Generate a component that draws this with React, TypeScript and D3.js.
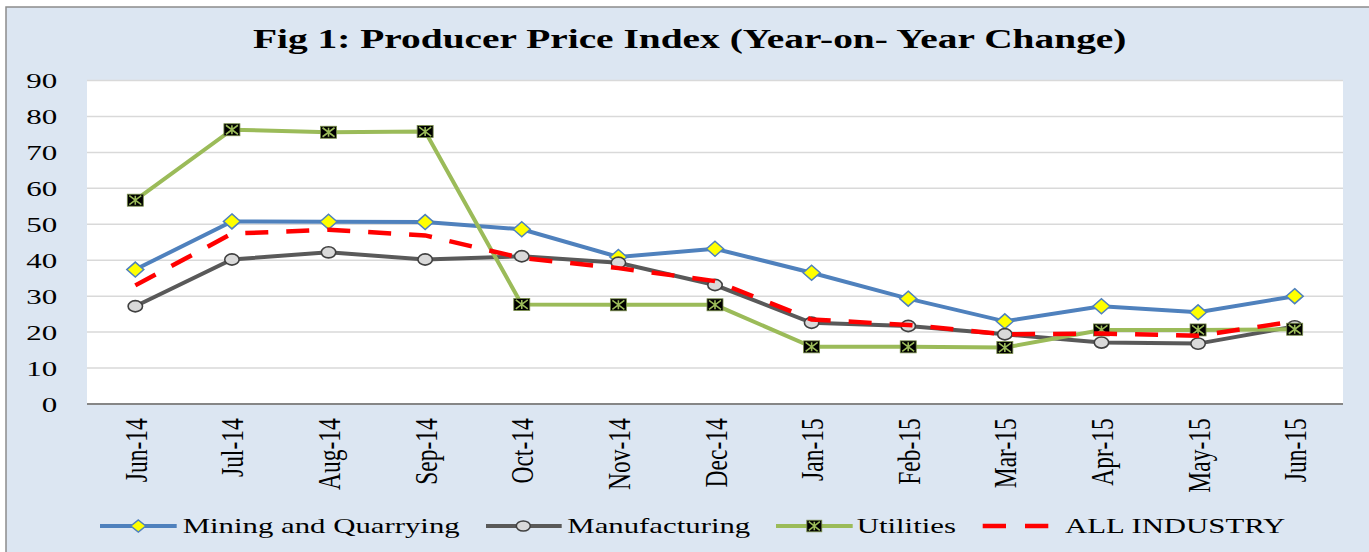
import React from "react";
import * as d3 from "d3";

const categories = ["Jun-14","Jul-14","Aug-14","Sep-14","Oct-14","Nov-14","Dec-14","Jan-15","Feb-15","Mar-15","Apr-15","May-15","Jun-15"];
const mining = [37.4, 50.8, 50.7, 50.6, 48.6, 40.9, 43.2, 36.5, 29.3, 23.0, 27.2, 25.5, 30.0];
const manufacturing = [27.2, 40.2, 42.2, 40.2, 41.1, 39.3, 33.1, 22.6, 21.7, 19.4, 17.1, 16.8, 21.6];
const utilities = [56.7, 76.3, 75.6, 75.8, 27.7, 27.6, 27.6, 15.9, 15.9, 15.7, 20.6, 20.6, 20.8];
const allIndustry = [33.0, 47.4, 48.5, 46.9, 40.6, 37.8, 34.2, 23.5, 22.0, 19.4, 19.6, 19.0, 23.0];
const yTicks = [0, 10, 20, 30, 40, 50, 60, 70, 80, 90];
const title = "Fig 1: Producer Price Index (Year-on- Year Change)";

const W = 1369, H = 552;
const plot = { left: 87, right: 1343, top: 80.5, bottom: 404 };
const FONT = "'Liberation Serif', 'Times New Roman', serif";

const BLUE = "#4F81BD", GREY = "#595959", GREEN = "#9BBB59", RED = "#FF0000";

function Diamond({ x, y, w = 8.5, h = 7.5 }: { x: number; y: number; w?: number; h?: number }) {
  return <path d={`M${x},${y - h}L${x + w},${y}L${x},${y + h}L${x - w},${y}Z`} fill="#FFFF00" stroke={BLUE} strokeWidth={1.5} />;
}
function Circ({ x, y, rx = 7.2, ry = 5.6 }: { x: number; y: number; rx?: number; ry?: number }) {
  return <ellipse cx={x} cy={y} rx={rx} ry={ry} fill="#D9D9D9" stroke="#404040" strokeWidth={1.6} />;
}
function Star({ x, y, w = 8, h = 6 }: { x: number; y: number; w?: number; h?: number }) {
  const kw = w - 2, kh = h - 1.5;
  return (
    <g>
      <rect x={x - w} y={y - h} width={2 * w} height={2 * h} fill="#000" stroke="#7a8f4a" strokeWidth={0.8} />
      <path d={`M${x - kw},${y - kh}L${x + kw},${y + kh}M${x + kw},${y - kh}L${x - kw},${y + kh}M${x},${y - kh}L${x},${y + kh}`} stroke={GREEN} strokeWidth={1.6} />
    </g>
  );
}

function LegendText({ x, y, children }: { x: number; y: number; children: React.ReactNode }) {
  return <text transform={`translate(${x},${y}) scale(1.4,1)`}>{children}</text>;
}

export default function App() {
  const x = d3.scaleBand<string>().domain(categories).range([plot.left, plot.right]);
  const y = d3.scaleLinear().domain([0, 90]).range([plot.bottom, plot.top]);
  const cx = (c: string) => (x(c) as number) + x.bandwidth() / 2;
  const line = d3.line<number>().x((_, i) => cx(categories[i])).y((d) => y(d));

  const legendY = 526;
  const ty = legendY + 7;
  return (
    <svg width={W} height={H} style={{ position: "absolute", left: 0, top: 0 }} fontFamily={FONT}>
      <rect x={0} y={0} width={W} height={H} fill="#fff" />
      <rect x={6} y={7} width={W + 10} height={H + 10} fill="#DCE6F2" stroke="#8C8C8C" strokeWidth={1.5} />
      <text transform="translate(689.7,48.3) scale(1.433,1)" textAnchor="middle" fontSize={27.5} fontWeight="bold" fill="#000">{title}</text>
      <rect x={plot.left} y={plot.top} width={plot.right - plot.left} height={plot.bottom - plot.top} fill="#fff" />
      {yTicks.map((t) => (
        <g key={t}>
          {t > 0 && <line x1={plot.left} x2={plot.right} y1={y(t)} y2={y(t)} stroke="#D9D9D9" strokeWidth={1.5} />}
          <text transform={`translate(57.3,${y(t) + 7.5}) scale(1.55,1)`} textAnchor="end" fontSize={20} fill="#000">{t}</text>
        </g>
      ))}
      <line x1={plot.left} x2={plot.right} y1={plot.bottom} y2={plot.bottom} stroke="#868686" strokeWidth={2} />
      {categories.map((c) => (
        <text key={c} transform={`translate(${cx(c) + 11.5},418.3) scale(1.38,1) rotate(-90)`} textAnchor="end" fontSize={23.5} fill="#000">{c}</text>
      ))}
      <path d={line(mining) || ""} fill="none" stroke={BLUE} strokeWidth={4} />
      {mining.map((v, i) => <Diamond key={"m" + i} x={cx(categories[i])} y={y(v)} />)}
      <path d={line(manufacturing) || ""} fill="none" stroke={GREY} strokeWidth={4} />
      {manufacturing.map((v, i) => <Circ key={"f" + i} x={cx(categories[i])} y={y(v)} />)}
      <path d={line(utilities) || ""} fill="none" stroke={GREEN} strokeWidth={4} />
      {utilities.map((v, i) => <Star key={"u" + i} x={cx(categories[i])} y={y(v)} />)}
      <path d={line(allIndustry) || ""} fill="none" stroke={RED} strokeWidth={4.5} strokeDasharray="23 18" />

      <g fontSize={22} fill="#000">
        <line x1={100} x2={176.7} y1={legendY} y2={legendY} stroke={BLUE} strokeWidth={4} />
        <Diamond x={138.3} y={legendY} w={7.5} h={6} />
        <LegendText x={182.7} y={ty}>Mining and Quarrying</LegendText>
        <line x1={486} x2={561.7} y1={legendY} y2={legendY} stroke={GREY} strokeWidth={4} />
        <Circ x={523.3} y={legendY} rx={7} ry={5} />
        <LegendText x={567.3} y={ty}>Manufacturing</LegendText>
        <line x1={776} x2={852.7} y1={legendY} y2={legendY} stroke={GREEN} strokeWidth={4} />
        <Star x={814.3} y={legendY} w={7.5} h={5.8} />
        <LegendText x={856.7} y={ty}>Utilities</LegendText>
        <line x1={982.7} x2={1048.3} y1={legendY} y2={legendY} stroke={RED} strokeWidth={4.5} strokeDasharray="23.3 19" />
        <LegendText x={1065} y={ty}>ALL INDUSTRY</LegendText>
      </g>
    </svg>
  );
}
